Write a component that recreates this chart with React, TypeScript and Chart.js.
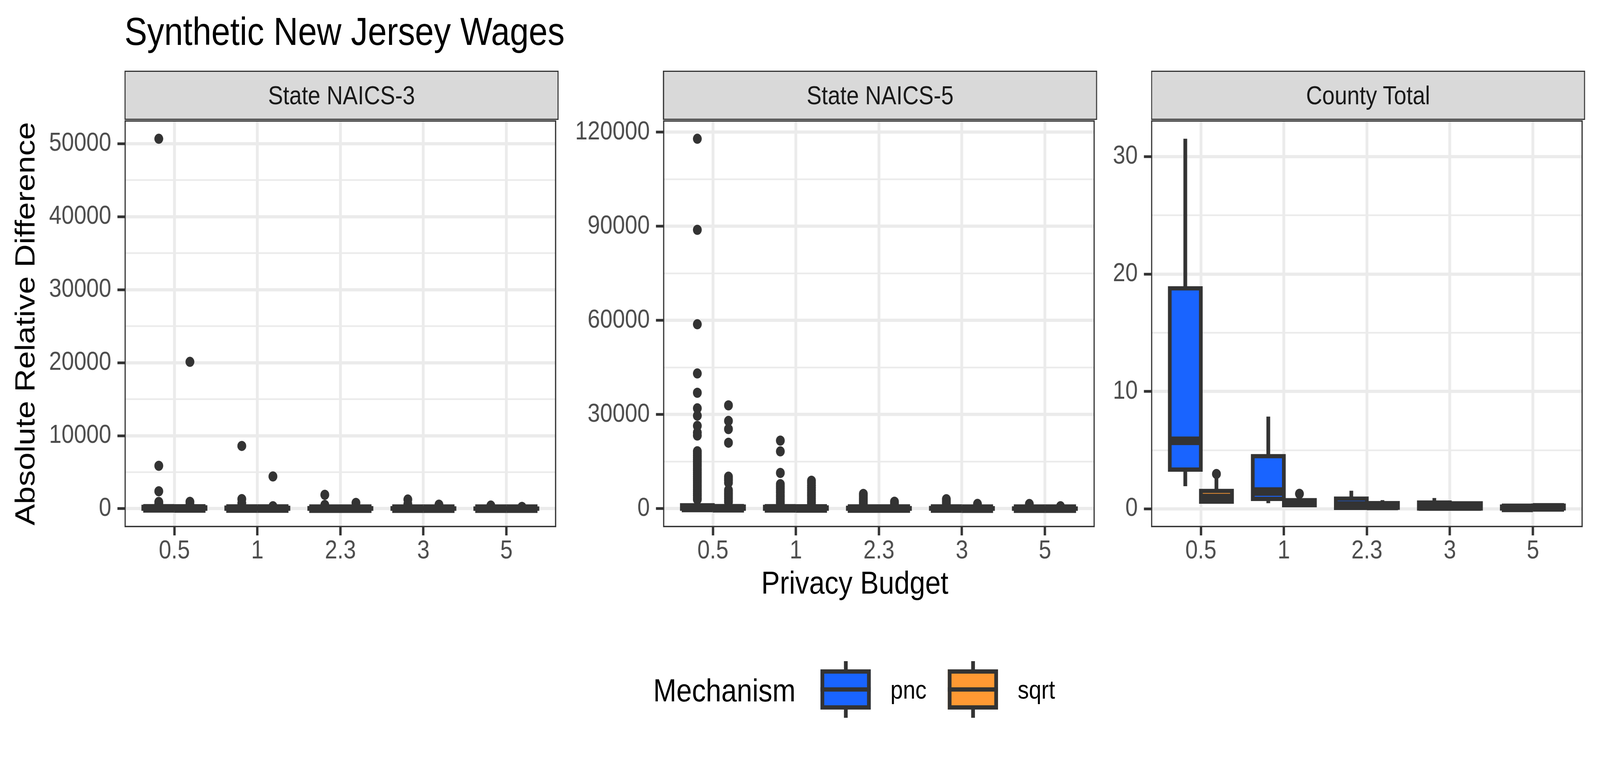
import React, { useEffect, useRef, useState } from 'react';
import { Chart, registerables } from 'chart.js';

Chart.register(...registerables);

const FONT = "'Liberation Sans', Arial, Helvetica, sans-serif";
Chart.defaults.font.family = FONT;

// ---------------- data ----------------
const budgets = ['0.5', '1', '2.3', '3', '5'];
const mechanisms = ['pnc', 'sqrt'];
const facetTitles = ['State NAICS-3', 'State NAICS-5', 'County Total'];

// y breaks (major ticks) per facet
const naics3Breaks = [0, 10000, 20000, 30000, 40000, 50000];
const naics5Breaks = [0, 30000, 60000, 90000, 120000];
const countyBreaks = [0, 10, 20, 30];

// State NAICS-3
const naics3PncLower = [0, 0, 0, 0, 0];
const naics3PncQ1 = [3, 2, 1, 1, 0.5];
const naics3PncMedian = [45, 25, 12, 9, 5];
const naics3PncQ3 = [260, 160, 90, 70, 40];
const naics3PncUpper = [640, 390, 220, 170, 100];
const naics3PncOutliers = [
  [50680, 5880, 2390, 930, 700],
  [8600, 1320, 760],
  [1905, 520],
  [1260, 640],
  [430],
];
const naics3SqrtLower = [0, 0, 0, 0, 0];
const naics3SqrtQ1 = [2, 1, 0.5, 0.4, 0.2];
const naics3SqrtMedian = [30, 15, 9, 6, 3];
const naics3SqrtQ3 = [190, 110, 70, 50, 30];
const naics3SqrtUpper = [470, 280, 170, 120, 70];
const naics3SqrtOutliers = [
  [20120, 940, 560],
  [4420, 340],
  [800],
  [560],
  [250],
];

// State NAICS-5
const naics5PncLower = [0, 0, 0, 0, 0];
const naics5PncQ1 = [8, 4, 2, 2, 1];
const naics5PncMedian = [230, 120, 60, 45, 25];
const naics5PncQ3 = [1100, 600, 300, 220, 120];
const naics5PncUpper = [2700, 1500, 750, 550, 300];
const naics5PncOutliers = [
  [117900, 88880, 58780, 43100, 36950, 31990, 29650, 26410, 24270, 23320, 18310, 17650, 16950, 16300, 15600,
    14950, 14250, 13600, 12900, 12250, 11550, 10900, 10200, 9550, 8850, 8200, 7500, 6850, 6150, 5500, 4800,
    4150, 3450, 2950],
  [21700, 18270, 11410, 7830, 7150, 6500, 5800, 5150, 4450, 3800, 3100, 2400, 1800],
  [4730, 4100, 3450, 2850, 2250, 1650, 1000],
  [3030, 2400, 1800, 1150],
  [1500, 900],
];
const naics5SqrtLower = [0, 0, 0, 0, 0];
const naics5SqrtQ1 = [5, 3, 2, 1, 1];
const naics5SqrtMedian = [150, 80, 40, 30, 15];
const naics5SqrtQ3 = [700, 400, 200, 150, 80];
const naics5SqrtUpper = [1700, 1000, 500, 370, 200];
const naics5SqrtOutliers = [
  [32940, 27980, 25370, 21030, 10210, 9600, 9010, 8300, 5930, 5300, 4650, 4000, 3350, 2700, 2100],
  [8930, 8200, 7400, 6640, 5900, 5200, 4600, 4020, 3350, 2700, 2050, 1400],
  [2240, 1600, 1000],
  [1530, 900],
  [780],
];

// County Total
const countyPncLower = [1.93, 0.48, 0.05, 0.01, 0.01];
const countyPncQ1 = [3.34, 0.85, 0.08, 0.02, 0.02];
const countyPncMedian = [5.79, 1.47, 0.29, 0.2, 0.08];
const countyPncQ3 = [18.78, 4.49, 0.87, 0.54, 0.2];
const countyPncUpper = [31.52, 7.86, 1.54, 0.92, 0.3];
const countyPncOutliers = [[], [], [], [], []];
const countySqrtLower = [0.45, 0.15, 0.05, 0.02, 0.02];
const countySqrtQ1 = [0.61, 0.31, 0.09, 0.02, 0.03];
const countySqrtMedian = [0.92, 0.5, 0.25, 0.2, 0.12];
const countySqrtQ3 = [1.53, 0.74, 0.49, 0.47, 0.27];
const countySqrtUpper = [2.6, 1.05, 0.74, 0.55, 0.35];
const countySqrtOutliers = [[2.97], [1.28], [], [], []];

// ---------------- styling / geometry ----------------
const DESIGN_W = 4715;
const DESIGN_H = 1941;
const MECH_FILL = ['#1964FF', '#FF9933'];
const INK = '#333333';
const GRID = '#EBEBEB';
const TICK_TEXT = '#4D4D4D';
const STRIP_BG = '#D9D9D9';
const STRIP_TEXT = '#1A1A1A';

const PANEL_LEFT = [367, 1954, 3392];
const PANEL_W = 1279;
const PLOT_TOP = 308;
const PLOT_BOTTOM = 1350;
const Y_AXIS_W = [240, 270, 150];
const XH = 140;
const PAD_TOP = 80;
const PAD_RIGHT = 6;
const DODGE = 0.1875;
const BOX_W = 0.375;
const LINE_W = 11;
const MEDIAN_W = 22;
const BORDER_W = 3.5;
const TICK_FONT = 66;

type Stats = {
  lower: number[]; q1: number[]; median: number[]; q3: number[]; upper: number[]; outliers: number[][];
};
type Facet = { title: string; breaks: number[]; stats: Stats[] };

const facets: Facet[] = [
  {
    title: facetTitles[0], breaks: naics3Breaks,
    stats: [
      { lower: naics3PncLower, q1: naics3PncQ1, median: naics3PncMedian, q3: naics3PncQ3, upper: naics3PncUpper, outliers: naics3PncOutliers },
      { lower: naics3SqrtLower, q1: naics3SqrtQ1, median: naics3SqrtMedian, q3: naics3SqrtQ3, upper: naics3SqrtUpper, outliers: naics3SqrtOutliers },
    ],
  },
  {
    title: facetTitles[1], breaks: naics5Breaks,
    stats: [
      { lower: naics5PncLower, q1: naics5PncQ1, median: naics5PncMedian, q3: naics5PncQ3, upper: naics5PncUpper, outliers: naics5PncOutliers },
      { lower: naics5SqrtLower, q1: naics5SqrtQ1, median: naics5SqrtMedian, q3: naics5SqrtQ3, upper: naics5SqrtUpper, outliers: naics5SqrtOutliers },
    ],
  },
  {
    title: facetTitles[2], breaks: countyBreaks,
    stats: [
      { lower: countyPncLower, q1: countyPncQ1, median: countyPncMedian, q3: countyPncQ3, upper: countyPncUpper, outliers: countyPncOutliers },
      { lower: countySqrtLower, q1: countySqrtQ1, median: countySqrtMedian, q3: countySqrtQ3, upper: countySqrtUpper, outliers: countySqrtOutliers },
    ],
  },
];

const borderPlugin = {
  id: 'panelBorder',
  afterDraw(chart: any) {
    const { ctx, chartArea: a } = chart;
    ctx.save();
    ctx.strokeStyle = INK;
    ctx.lineWidth = BORDER_W;
    ctx.strokeRect(a.left + BORDER_W / 2, a.top + BORDER_W / 2, a.width - BORDER_W, a.height - BORDER_W);
    ctx.restore();
  },
};

function buildConfig(facet: Facet, yw: number, dpr: number): any {
  const all: number[] = [];
  facet.stats.forEach((s) => {
    all.push(...s.lower, ...s.upper, ...s.q1, ...s.q3);
    s.outliers.forEach((o) => all.push(...o));
  });
  const lo = Math.min(...all);
  const hi = Math.max(...all);
  const span = hi - lo;
  const yMin = lo - 0.05 * span;
  const yMax = hi + 0.05 * span;
  const majors = facet.breaks;
  const step = majors[1] - majors[0];
  const tickVals: number[] = [];
  majors.forEach((m, i) => {
    tickVals.push(m);
    if (i < majors.length - 1) tickVals.push(m + step / 2);
  });
  if (majors[majors.length - 1] + step / 2 < yMax) tickVals.push(majors[majors.length - 1] + step / 2);
  if (majors[0] - step / 2 > yMin) tickVals.unshift(majors[0] - step / 2);
  const isMajor = (v: number) => majors.includes(v);

  const halfBox = (ctx: any) => {
    const xs = ctx.chart.scales.x;
    return Math.abs(xs.getPixelForValue(BOX_W) - xs.getPixelForValue(0)) / 2;
  };

  const datasets: any[] = [];
  mechanisms.forEach((m, mi) => {
    const off = mi === 0 ? -DODGE : DODGE;
    const s = facet.stats[mi];
    datasets.push({
      type: 'scatter', label: m + ' outliers',
      data: s.outliers.flatMap((arr, i) => arr.map((v) => ({ x: i + 1 + off, y: v }))),
      pointRadius: 13, pointBackgroundColor: INK, pointBorderWidth: 0, order: 4,
    });
    datasets.push({
      type: 'bar', label: m + ' whiskers',
      data: budgets.map((_, i) => ({ x: i + 1 + off, y: [s.lower[i], s.upper[i]] })),
      backgroundColor: INK, borderWidth: 0, barThickness: LINE_W, grouped: false, inflateAmount: 0, order: 3,
    });
    datasets.push({
      type: 'bar', label: m,
      data: budgets.map((_, i) => ({ x: i + 1 + off, y: [s.q1[i], s.q3[i]] })),
      backgroundColor: MECH_FILL[mi], borderColor: INK, borderWidth: LINE_W, borderSkipped: false,
      inflateAmount: LINE_W / 2, grouped: false, categoryPercentage: 1, barPercentage: 1, order: 2,
    });
    datasets.push({
      type: 'scatter', label: m + ' median',
      data: budgets.map((_, i) => ({ x: i + 1 + off, y: s.median[i] })),
      pointStyle: 'line', pointRadius: halfBox, pointBorderWidth: MEDIAN_W, pointBorderColor: INK,
      pointBackgroundColor: INK, order: 1,
    });
  });

  return {
    type: 'bar',
    data: { datasets },
    options: {
      responsive: false,
      animation: false,
      devicePixelRatio: dpr,
      events: [],
      layout: { padding: { top: PAD_TOP, right: PAD_RIGHT, left: 0, bottom: 0 } },
      plugins: { legend: { display: false }, tooltip: { enabled: false } },
      scales: {
        x: {
          type: 'linear', min: 0.4, max: 5.6, offset: false, bounds: 'data',
          afterBuildTicks: (sc: any) => { sc.ticks = budgets.map((_, i) => ({ value: i + 1 })); },
          afterFit: (sc: any) => { sc.height = XH; },
          ticks: {
            autoSkip: false, maxRotation: 0, minRotation: 0, padding: 1, color: TICK_TEXT,
            font: { size: TICK_FONT, family: FONT },
            callback: (v: number) => budgets[Math.round(v) - 1] ?? '',
          },
          grid: { color: GRID, lineWidth: 8.3, drawTicks: true, tickLength: 21, tickWidth: 7, tickColor: INK, offset: false },
          border: { display: false },
        },
        y: {
          type: 'linear', min: yMin, max: yMax, bounds: 'data',
          afterBuildTicks: (sc: any) => { sc.ticks = tickVals.map((v) => ({ value: v })); },
          afterFit: (sc: any) => { sc.width = yw; },
          ticks: {
            autoSkip: false, padding: 18, color: TICK_TEXT, font: { size: TICK_FONT, family: FONT },
            callback: (v: number) => (isMajor(v) ? String(v) : ''),
          },
          grid: {
            color: GRID,
            lineWidth: (c: any) => (c.tick && isMajor(c.tick.value) ? 8.3 : 4.2),
            drawTicks: true, tickLength: 21, tickWidth: 7,
            tickColor: (c: any) => (c.tick && isMajor(c.tick.value) ? INK : 'rgba(0,0,0,0)'),
          },
          border: { display: false },
        },
      },
    },
    plugins: [borderPlugin],
  };
}

function Panel({ facet, index, dpr }: { facet: Facet; index: number; dpr: number }) {
  const ref = useRef<HTMLCanvasElement>(null);
  const yw = Y_AXIS_W[index];
  const w = yw + PANEL_W + PAD_RIGHT;
  const h = PAD_TOP + (PLOT_BOTTOM - PLOT_TOP) + XH;
  useEffect(() => {
    const chart = new Chart(ref.current as HTMLCanvasElement, buildConfig(facet, yw, dpr));
    return () => chart.destroy();
  }, [dpr]);
  return (
    <div style={{ position: 'absolute', left: PANEL_LEFT[index] - yw, top: PLOT_TOP - PAD_TOP, width: w, height: h }}>
      <canvas ref={ref} width={w} height={h} style={{ display: 'block', width: w, height: h }} />
    </div>
  );
}

function Text({ text, x, baseline, size, color = '#000000', align = 'left' }: any) {
  const top = baseline - 0.8465 * size;
  const style: any = {
    position: 'absolute', top, fontSize: size, lineHeight: `${size}px`, color, whiteSpace: 'nowrap', fontFamily: FONT,
  };
  if (align === 'center') {
    style.left = x - 2000; style.width = 4000; style.textAlign = 'center';
  } else {
    style.left = x;
  }
  return <div style={style}>{text}</div>;
}

function LegendKey({ left, fill }: { left: number; fill: string }) {
  const bw = 148;
  return (
    <>
      <div style={{ position: 'absolute', left: left + bw / 2 - LINE_W / 2, top: 1693, width: LINE_W, height: 145, background: INK }} />
      <div style={{ position: 'absolute', left, top: 1714, width: bw, height: 103, background: fill, border: `${LINE_W}px solid ${INK}`, boxSizing: 'border-box' }} />
      <div style={{ position: 'absolute', left, top: 1760, width: bw, height: LINE_W, background: INK }} />
    </>
  );
}

// the viewport can be narrower than the requested window, so the design is fitted to it
function getScale() {
  const w = window.innerWidth || DESIGN_W;
  const h = window.innerHeight || DESIGN_H;
  return { sx: w / DESIGN_W, sy: h / DESIGN_H };
}

export default function App() {
  const [scale, setScale] = useState(getScale());
  useEffect(() => {
    const onResize = () => setScale(getScale());
    window.addEventListener('resize', onResize);
    document.body.style.margin = '0';
    document.body.style.overflow = 'hidden';
    return () => window.removeEventListener('resize', onResize);
  }, []);
  const dpr = 1;
  return (
    <div style={{ position: 'fixed', left: 0, top: 0, width: DESIGN_W * scale.sx, height: DESIGN_H * scale.sy, overflow: 'hidden', background: '#FFFFFF' }}>
      <div style={{ position: 'absolute', left: 0, top: 0, width: DESIGN_W, height: DESIGN_H, background: '#FFFFFF', fontFamily: FONT, transform: `scale(${scale.sx}, ${scale.sy})`, transformOrigin: '0 0' }}>
        <Text text="Synthetic New Jersey Wages" x={367} baseline={115} size={100} />
        {facets.map((f, i) => (
          <React.Fragment key={f.title}>
            <div style={{ position: 'absolute', left: PANEL_LEFT[i], top: 181, width: PANEL_W, height: 126, background: STRIP_BG, border: `${BORDER_W}px solid ${INK}`, boxSizing: 'border-box' }} />
            <Text text={f.title} x={PANEL_LEFT[i] + PANEL_W / 2} baseline={267} size={TICK_FONT} color={STRIP_TEXT} align="center" />
            <Panel facet={f} index={i} dpr={dpr} />
          </React.Fragment>
        ))}
        <div style={{ position: 'absolute', left: 74 - 1000, top: 829 - 41, width: 2000, height: 82, lineHeight: '82px', fontSize: 82, textAlign: 'center', transform: 'rotate(-90deg)', transformOrigin: '50% 50%', whiteSpace: 'nowrap', color: '#000000', fontFamily: FONT }}>
          Absolute Relative Difference
        </div>
        <Text text="Privacy Budget" x={2519} baseline={1520} size={82} align="center" />
        <Text text="Mechanism" x={1925} baseline={1796} size={82} />
        <LegendKey left={2418} fill={MECH_FILL[0]} />
        <Text text={mechanisms[0]} x={2624} baseline={1789} size={TICK_FONT} />
        <LegendKey left={2793} fill={MECH_FILL[1]} />
        <Text text={mechanisms[1]} x={2999} baseline={1789} size={TICK_FONT} />
      </div>
    </div>
  );
}
